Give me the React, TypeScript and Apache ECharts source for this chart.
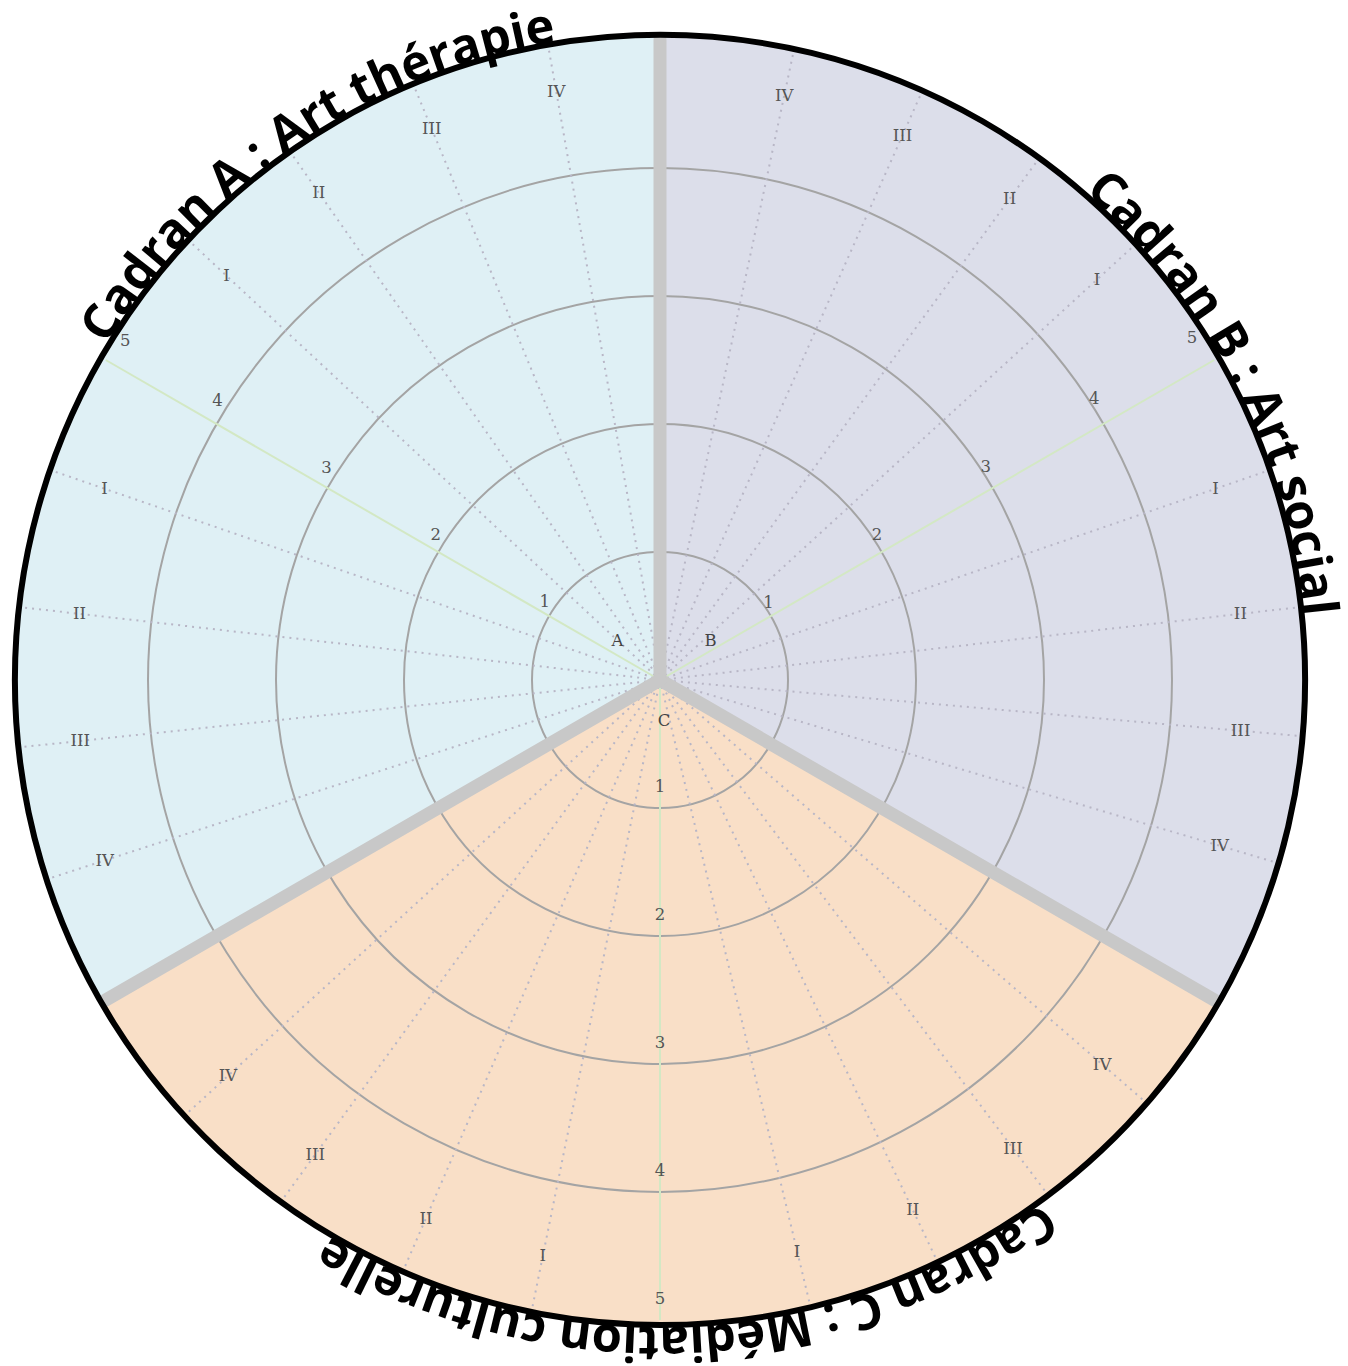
import React, { useEffect, useRef } from "react";
import * as echarts from "echarts";

// ---------- data ----------
const sectorNames = ["A", "B", "C"];
const sectorTitles = [
  "Cadran A : Art thérapie",
  "Cadran B : Art social",
  "Cadran C : Médiation culturelle",
];
const sectorStartAngles = [90, -30, 210];
const sectorEndAngles = [210, 90, 330];
const sectorAxisAngles = [150, 30, 270];
const ringValues = [1, 2, 3, 4];
const tickValues = [1, 2, 3, 4, 5];
const romanLabels = ["I", "II", "III", "IV"];
const subAnglesA = [137, 125, 112.5, 100, 161, 173.5, 186, 198];
const subAnglesB = [42.5, 54, 66, 78, 19, 6.5, -5, -16.5];
const subAnglesC = [258.5, 246.5, 234, 222.5, 283.5, 295.5, 307, 319];
const subAngles = [subAnglesA, subAnglesB, subAnglesC];

// ---------- layout / style ----------
const CX = 660;
const CY = 680;
const UNIT = 128;
const R_MAX = 5.3;
const D = Math.PI / 180;
const sectorColors = ["#dff0f5", "#dcdeea", "#f9dfc7"];
const titleCenterAngles = [124, 27.3, 272.7];
const tickAngleShift = [-1.5, 2, 0];
const tickOffsets = [[-6, -12], [0, -10], [0, -22]];
const TITLE_FONT_SIZE = 49;
const TITLE_FONT = '"Open Sans"';
const LABEL_FONT = '"DejaVu Serif"';
const LABEL_SIZE = 16.5;

const norm = (a: number) => ((a % 360) + 360) % 360;
// label ring for the roman numerals (slightly wider at the top, as in the reference)
const romanRadius = (a: number) => {
  const s = Math.sin(a * D);
  return 4.55 + 0.12 * Math.max(0, s) + 0.04 * Math.max(0, -s);
};

let measureCtx: CanvasRenderingContext2D | null = null;
function charWidths(text: string, font: string): number[] {
  if (!measureCtx) measureCtx = document.createElement("canvas").getContext("2d");
  measureCtx!.font = font;
  return Array.from(text).map((c) => measureCtx!.measureText(c).width);
}

function radiusPx(api: any, r: number) {
  const c = api.coord([0, 0]);
  const p = api.coord([r, 0]);
  return Math.hypot(p[0] - c[0], p[1] - c[1]);
}

function radialLine(api: any, a: number, r1: number) {
  const p0 = api.coord([0, norm(a)]);
  const p1 = api.coord([r1, norm(a)]);
  return { x1: p0[0], y1: p0[1], x2: p1[0], y2: p1[1] };
}

export default function App() {
  const ref = useRef<HTMLDivElement>(null);

  useEffect(() => {
    const chart = echarts.init(ref.current!, null, { renderer: "svg" });

    const dottedItems: { a: number; label: string; s: number }[] = [];
    subAngles.forEach((arr, s) =>
      arr.forEach((a, i) => dottedItems.push({ a, label: romanLabels[i % 4], s }))
    );
    const tickItems: { v: number; s: number }[] = [];
    sectorAxisAngles.forEach((_, s) => tickValues.forEach((v) => tickItems.push({ v, s })));

    const titleFontStr = `bold ${TITLE_FONT_SIZE}px ${TITLE_FONT}`;
    const labelStyle = (text: string, fill = "#555555") => ({
      text,
      fontFamily: LABEL_FONT,
      fontSize: LABEL_SIZE,
      fill,
      align: "center",
      verticalAlign: "middle",
    });

    const option: any = {
      animation: false,
      backgroundColor: "#ffffff",
      polar: { center: [CX, CY], radius: R_MAX * UNIT },
      angleAxis: {
        type: "value",
        min: 0,
        max: 360,
        startAngle: 0,
        clockwise: false,
        axisLine: { show: false },
        axisTick: { show: false },
        axisLabel: { show: false },
        splitLine: { show: false },
      },
      radiusAxis: {
        type: "value",
        min: 0,
        max: R_MAX,
        axisLine: { show: false },
        axisTick: { show: false },
        axisLabel: { show: false },
        splitLine: { show: false },
      },
      series: [
        {
          type: "custom",
          name: "sectors",
          coordinateSystem: "polar",
          z: 1,
          silent: true,
          data: sectorNames.map((n, i) => ({ name: n, value: [5, norm(sectorAxisAngles[i])] })),
          renderItem: (params: any, api: any) => {
            const i = params.dataIndex;
            const c = api.coord([0, 0]);
            return {
              type: "sector",
              shape: {
                cx: c[0],
                cy: c[1],
                r0: 0,
                r: radiusPx(api, 5.05),
                startAngle: -sectorEndAngles[i] * D,
                endAngle: -sectorStartAngles[i] * D,
                clockwise: true,
              },
              style: { fill: sectorColors[i] },
            };
          },
        },
        {
          type: "custom",
          name: "rings",
          coordinateSystem: "polar",
          z: 2,
          silent: true,
          data: ringValues.map((v) => [v, 0]),
          renderItem: (params: any, api: any) => {
            const c = api.coord([0, 0]);
            return {
              type: "circle",
              shape: { cx: c[0], cy: c[1], r: radiusPx(api, api.value(0)) },
              style: { fill: "none", stroke: "#a4a4a4", lineWidth: 2 },
            };
          },
        },
        {
          type: "custom",
          name: "subLines",
          coordinateSystem: "polar",
          z: 3,
          silent: true,
          data: dottedItems.map((d) => [5, norm(d.a)]),
          renderItem: (params: any, api: any) => ({
            type: "line",
            shape: radialLine(api, api.value(1), 5.06),
            style: { stroke: "#b8b6c6", lineWidth: 2, lineDash: [2, 5] },
          }),
        },
        {
          type: "custom",
          name: "axes",
          coordinateSystem: "polar",
          z: 4,
          silent: true,
          data: sectorAxisAngles.map((a) => [5, norm(a)]),
          renderItem: (params: any, api: any) => ({
            type: "line",
            shape: radialLine(api, api.value(1), api.value(0)),
            style: { stroke: "#d3e8c4", lineWidth: 2 },
          }),
        },
        {
          type: "custom",
          name: "separators",
          coordinateSystem: "polar",
          z: 5,
          silent: true,
          data: sectorStartAngles.map((a) => [5, norm(a)]),
          renderItem: (params: any, api: any) => ({
            type: "line",
            shape: radialLine(api, api.value(1), 5.0),
            style: { stroke: "#c8c8c8", lineWidth: 13, lineCap: "round" },
          }),
        },
        {
          type: "custom",
          name: "outer",
          coordinateSystem: "polar",
          z: 6,
          silent: true,
          data: [[5, 0]],
          renderItem: (params: any, api: any) => {
            const c = api.coord([0, 0]);
            return {
              type: "circle",
              shape: { cx: c[0], cy: c[1], r: radiusPx(api, 5.04) },
              style: { fill: "none", stroke: "#000000", lineWidth: 6 },
            };
          },
        },
        {
          type: "custom",
          name: "ticks",
          coordinateSystem: "polar",
          z: 7,
          silent: true,
          data: tickItems.map((t) => [t.v, norm(sectorAxisAngles[t.s] + tickAngleShift[t.s])]),
          renderItem: (params: any, api: any) => {
            const t = tickItems[params.dataIndex];
            // keep the outermost label inside the rim for the upper sectors
            const r = t.v === 5 && t.s !== 2 ? api.value(0) - 0.1 : api.value(0);
            const p = api.coord([r, api.value(1)]);
            const off = tickOffsets[t.s];
            const extra = t.v === 5 && t.s === 0 ? [6, 0] : [0, 0];
            return {
              type: "text",
              x: p[0] + off[0] + extra[0],
              y: p[1] + off[1] + extra[1],
              style: labelStyle(String(t.v)),
            };
          },
        },
        {
          type: "custom",
          name: "roman",
          coordinateSystem: "polar",
          z: 7,
          silent: true,
          data: dottedItems.map((d) => [romanRadius(d.a), norm(d.a)]),
          renderItem: (params: any, api: any) => {
            const d = dottedItems[params.dataIndex];
            const p = api.coord([api.value(0), api.value(1)]);
            return { type: "text", x: p[0], y: p[1], style: labelStyle(d.label) };
          },
        },
        {
          type: "custom",
          name: "letters",
          coordinateSystem: "polar",
          z: 7,
          silent: true,
          data: sectorNames.map((n, i) => ({ name: n, value: [0.42, norm(sectorAxisAngles[i])] })),
          renderItem: (params: any, api: any) => {
            const p = api.coord([api.value(0), api.value(1)]);
            return {
              type: "text",
              x: p[0] + 4,
              y: p[1] - 13,
              style: labelStyle(sectorNames[params.dataIndex], "#444444"),
            };
          },
        },
        {
          type: "custom",
          name: "titles",
          coordinateSystem: "polar",
          z: 8,
          silent: true,
          data: sectorTitles.map((t, i) => ({ name: t, value: [5.06, norm(titleCenterAngles[i])] })),
          renderItem: (params: any, api: any) => {
            const i = params.dataIndex;
            const text = sectorTitles[i];
            const widths = charWidths(text, titleFontStr);
            const basePx = radiusPx(api, api.value(0));
            const total = widths.reduce((a, b) => a + b, 0);
            const totalDeg = total / basePx / D;
            const start = titleCenterAngles[i] + totalDeg / 2;
            const midUnits = (basePx + 0.37 * TITLE_FONT_SIZE) / UNIT;
            const chars = Array.from(text);
            let cum = 0;
            const children: any[] = [];
            chars.forEach((ch, k) => {
              const w = widths[k];
              const ang = start - (cum + w / 2) / basePx / D;
              cum += w;
              if (ch === " ") return;
              const p = api.coord([midUnits, norm(ang)]);
              children.push({
                type: "text",
                x: p[0],
                y: p[1],
                rotation: (ang - 90) * D,
                style: {
                  text: ch,
                  fontFamily: TITLE_FONT,
                  fontWeight: "bold",
                  fontSize: TITLE_FONT_SIZE,
                  fill: "#000000",
                  align: "center",
                  verticalAlign: "middle",
                },
              });
            });
            return { type: "group", children };
          },
        },
      ],
    };

    chart.setOption(option);
    return () => chart.dispose();
  }, []);

  return (
    <div
      ref={ref}
      style={{ position: "absolute", left: 0, top: 0, width: 1348, height: 1366, background: "#fff" }}
    />
  );
}
